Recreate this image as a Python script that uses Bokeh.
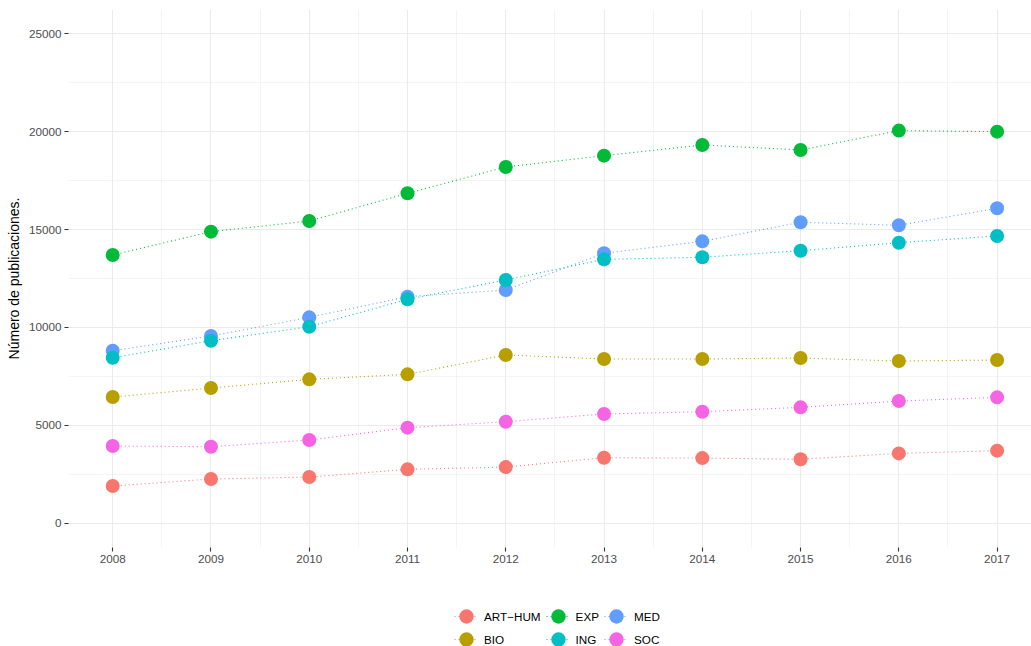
from bokeh.plotting import figure
from bokeh.layouts import column
from bokeh.models import Range1d, FixedTicker, Legend, LegendItem
from bokeh.embed import file_html
from bokeh.resources import INLINE

years = [2008, 2009, 2010, 2011, 2012, 2013, 2014, 2015, 2016, 2017]
art_hum = [1890, 2250, 2350, 2745, 2860, 3340, 3320, 3260, 3560, 3700]
bio = [6440, 6900, 7345, 7600, 8590, 8385, 8385, 8435, 8280, 8335]
exp_ = [13700, 14895, 15440, 16855, 18200, 18780, 19325, 19070, 20060, 20005]
ing = [8450, 9320, 10035, 11435, 12425, 13480, 13585, 13920, 14330, 14675]
med = [8810, 9560, 10515, 11570, 11910, 13790, 14400, 15375, 15220, 16090]
soc = [3935, 3900, 4245, 4875, 5180, 5575, 5690, 5915, 6235, 6425]

labels = ["ART\u2212HUM", "BIO", "EXP", "ING", "MED", "SOC"]
series = [art_hum, bio, exp_, ing, med, soc]
colors = ["#F8766D", "#B79F00", "#00BA38", "#00BFC4", "#619CFF", "#F564E3"]
draw_order = [0, 1, 2, 4, 3, 5]

y_ticks = [0, 5000, 10000, 15000, 20000, 25000]
y_minor = [2500, 7500, 12500, 17500, 22500]
x_minor = [2008.5, 2009.5, 2010.5, 2011.5, 2012.5, 2013.5, 2014.5, 2015.5, 2016.5]

p = figure(width=1031, height=575, output_backend="svg", toolbar_location=None,
           x_range=Range1d(2007.55, 2017.35), y_range=Range1d(-1250, 26250),
           min_border_left=68, min_border_right=0, min_border_top=9, min_border_bottom=28)
p.outline_line_color = None
p.background_fill_color = "white"

p.xaxis.ticker = FixedTicker(ticks=years, minor_ticks=x_minor)
p.yaxis.ticker = FixedTicker(ticks=y_ticks, minor_ticks=y_minor)

for ax in (p.xaxis[0], p.yaxis[0]):
    ax.axis_line_color = None
    ax.major_tick_line_color = "#333333"
    ax.major_tick_line_width = 1.1
    ax.major_tick_out = 4
    ax.major_tick_in = 0
    ax.minor_tick_line_color = None
    ax.major_label_text_font = "Liberation Sans"
    ax.major_label_text_font_size = "11.7px"
    ax.major_label_text_color = "#4D4D4D"
    ax.major_label_standoff = 3

p.yaxis.axis_label = "Número de publicaciones."
p.yaxis.axis_label_text_font = "Liberation Sans"
p.yaxis.axis_label_text_font_size = "14px"
p.yaxis.axis_label_text_font_style = "normal"
p.yaxis.axis_label_text_color = "black"
p.yaxis.axis_label_standoff = 4

for g in (p.xgrid[0], p.ygrid[0]):
    g.grid_line_color = "#EBEBEB"
    g.grid_line_width = 1.1
    g.minor_grid_line_color = "#EBEBEB"
    g.minor_grid_line_width = 0.55

for i in draw_order:
    p.line(years, series[i], line_color=colors[i], line_width=1.1, line_dash="1 3")
for i in draw_order:
    p.scatter(years, series[i], size=14, fill_color=colors[i], line_color=None)

# legend strip below the chart (its own renderers fall outside its view)
lf = figure(width=1031, height=71, output_backend="svg", toolbar_location=None,
            x_range=Range1d(0, 1), y_range=Range1d(0, 1),
            x_axis_type=None, y_axis_type=None, min_border=0)
lf.outline_line_color = None
items = []
for i in range(6):
    lr = lf.line(years, series[i], line_color=colors[i], line_width=1.1, line_dash="1 3")
    er = lf.ellipse(x=years, y=series[i], width=14, height=14,
                    width_units="screen", height_units="screen",
                    fill_color=colors[i], line_color=None)
    items.append(LegendItem(label=labels[i], renderers=[lr, er]))

legend = Legend(items=items, orientation="vertical", nrows=2, location=(386, -2),
                glyph_width=24, glyph_height=18, spacing=5, label_standoff=6,
                label_height=12, label_width=10,
                label_text_font="Liberation Sans", label_text_font_size="11.7px",
                label_text_color="black", padding=0, margin=0,
                border_line_color=None, background_fill_alpha=0)
lf.add_layout(legend)

open("out.html", "w").write(file_html(column(p, lf), INLINE))
